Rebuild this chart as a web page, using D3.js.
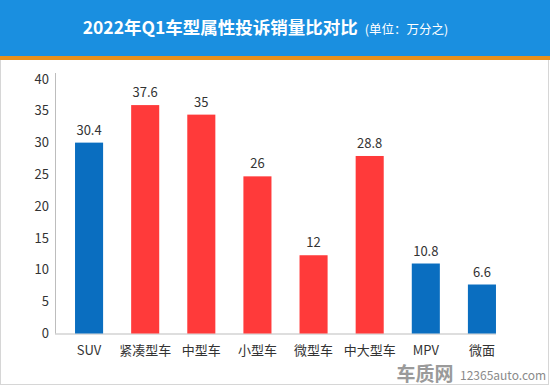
<!DOCTYPE html>
<html>
<head>
<meta charset="utf-8">
<script src="https://cdn.jsdelivr.net/npm/d3@7"></script>
<style>
  body { margin: 0; background: #fff; }
  svg { display: block; font-family: "Noto Sans CJK SC", "Noto Sans", sans-serif; }
</style>
</head>
<body>
<svg id="chart" width="550" height="386"></svg>
<script>
// categories and values (bar heights, labels as printed)
var categories = ["SUV", "紧凑型车", "中型车", "小型车", "微型车", "中大型车", "MPV", "微面"];
var barValues = [30.0, 35.9, 34.4, 24.7, 12.3, 27.9, 11.0, 7.7];
var valueLabels = ["30.4", "37.6", "35", "26", "12", "28.8", "10.8", "6.6"];
var groups = ["blue", "red", "red", "red", "red", "red", "blue", "blue"];
var yTicks = [0, 5, 10, 15, 20, 25, 30, 35, 40];

var svg = d3.select("#chart");
var colors = { blue: "#0A6EC0", red: "#FF3A3A" };

// frame
svg.append("rect")
    .attr("x", 0.5).attr("y", 0.5)
    .attr("width", 548).attr("height", 384)
    .attr("fill", "#fff")
    .attr("stroke", "#d6d6d6");

// header band
svg.append("rect").attr("x", 0).attr("y", 0).attr("width", 550).attr("height", 56).attr("fill", "#1A8FE0");
svg.append("rect").attr("x", 0).attr("y", 56).attr("width", 550).attr("height", 4).attr("fill", "#E8901C");

var title = svg.append("text")
    .attr("y", 34)
    .attr("fill", "#fff");
title.append("tspan")
    .attr("font-size", "17.5px")
    .attr("font-weight", "bold")
    .text("2022年Q1车型属性投诉销量比对比");
title.append("tspan")
    .attr("font-size", "12.5px")
    .attr("dx", 7)
    .text("(单位：万分之)");
var tw = title.node().getComputedTextLength();
title.attr("x", 262 - tw / 2);

// scales
var x = d3.scaleBand()
    .domain(categories)
    .range([61, 510])
    .paddingInner(0.5)
    .paddingOuter(0.25);

var y = d3.scaleLinear()
    .domain([0, 40])
    .range([333.5, 79]);

// y axis labels
svg.selectAll(".ytick").data(yTicks).enter()
    .append("text")
    .attr("class", "ytick")
    .attr("x", 49)
    .attr("y", function(d) { return y(d); })
    .attr("dy", "0.35em")
    .attr("text-anchor", "end")
    .attr("font-size", "13px")
    .attr("fill", "#333")
    .text(function(d) { return d; });

// axis lines
svg.append("line")
    .attr("x1", 55.5).attr("x2", 55.5)
    .attr("y1", y(40) - 6).attr("y2", y(0))
    .attr("stroke", "#bdbdbd");
svg.append("line")
    .attr("x1", 55).attr("x2", 496)
    .attr("y1", y(0) + 0.5).attr("y2", y(0) + 0.5)
    .attr("stroke", "#bdbdbd");

// bars
svg.selectAll(".bar").data(categories).enter()
    .append("rect")
    .attr("class", "bar")
    .attr("x", function(d) { return x(d); })
    .attr("width", x.bandwidth())
    .attr("y", function(d, i) { return y(barValues[i]); })
    .attr("height", function(d, i) { return y(0) - y(barValues[i]); })
    .attr("fill", function(d, i) { return colors[groups[i]]; });

// value labels
svg.selectAll(".val").data(categories).enter()
    .append("text")
    .attr("class", "val")
    .attr("x", function(d) { return x(d) + x.bandwidth() / 2; })
    .attr("y", function(d, i) { return y(barValues[i]) - 8; })
    .attr("text-anchor", "middle")
    .attr("font-size", "13px")
    .attr("fill", "#333")
    .text(function(d, i) { return valueLabels[i]; });

// category labels
svg.selectAll(".cat").data(categories).enter()
    .append("text")
    .attr("class", "cat")
    .attr("x", function(d) { return x(d) + x.bandwidth() / 2; })
    .attr("y", 355)
    .attr("text-anchor", "middle")
    .attr("font-size", "13px")
    .attr("fill", "#333")
    .text(function(d) { return d; });

// watermark
svg.append("text")
    .attr("x", 425).attr("y", 381)
    .attr("text-anchor", "middle")
    .attr("font-size", "19px")
    .attr("font-weight", "bold")
    .attr("fill", "#9a9a9a")
    .text("车质网");
svg.append("text")
    .attr("x", 460).attr("y", 380)
    .attr("font-size", "12px")
    .attr("fill", "#8a8a8a")
    .text("12365auto.com");
</script>
</body>
</html>
